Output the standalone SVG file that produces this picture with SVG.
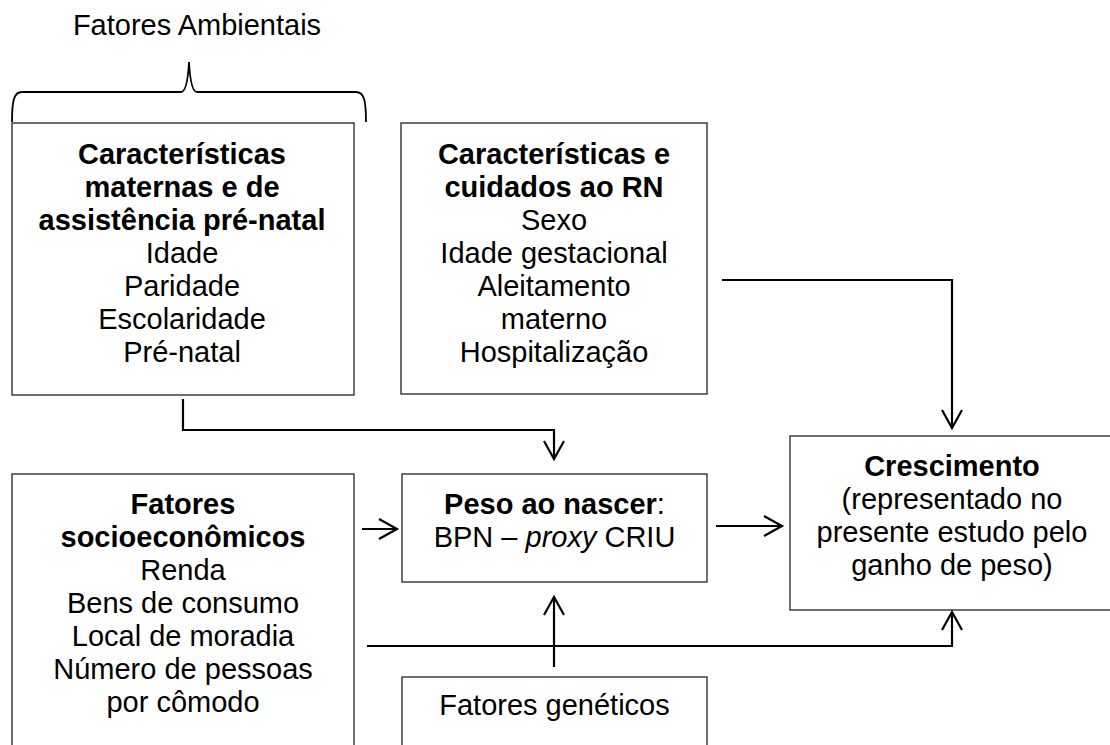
<svg xmlns="http://www.w3.org/2000/svg" width="1110" height="745" viewBox="0 0 1110 745">
<defs>
<style>
text{font-family:"Liberation Sans",Arial,sans-serif;font-size:29px;fill:#000;text-anchor:middle}
.b{font-weight:bold}
.box{fill:#fff;stroke:#222;stroke-width:1.3}
.con{fill:none;stroke:#000;stroke-width:2.2}
</style>
<marker id="arr" markerUnits="userSpaceOnUse" markerWidth="24" markerHeight="24" refX="18" refY="10" orient="auto" overflow="visible">
<path d="M0,0 L18,10 L0,20" fill="none" stroke="#000" stroke-width="2.2"/>
</marker>
</defs>
<rect width="1110" height="745" fill="#fff"/>

<g id="ambientais">
<text x="197" y="35">Fatores Ambientais</text>
<path d="M12,122 C12,100 14,92 22,92 L181,92 C186,92 188,80 189,62 C190,80 192,92 197,92 L356,92 C364,92 366,100 366,122" fill="none" stroke="#000" stroke-width="1.8"/>
</g>

<g id="maternas">
<rect class="box" x="12" y="123" width="342" height="272"/>
<text class="b" x="182" y="164">Características</text>
<text class="b" x="182" y="197">maternas e de</text>
<text class="b" x="182" y="230">assistência pré-natal</text>
<text x="182" y="263">Idade</text>
<text x="182" y="296">Paridade</text>
<text x="182" y="329">Escolaridade</text>
<text x="182" y="362">Pré-natal</text>
</g>

<g id="rn">
<rect class="box" x="401" y="123" width="306" height="271"/>
<text class="b" x="554" y="164">Características e</text>
<text class="b" x="554" y="197">cuidados ao RN</text>
<text x="554" y="230">Sexo</text>
<text x="554" y="263">Idade gestacional</text>
<text x="554" y="296">Aleitamento</text>
<text x="554" y="329">materno</text>
<text x="554" y="362">Hospitalização</text>
</g>

<g id="socio">
<rect class="box" x="12" y="474" width="342" height="290"/>
<text class="b" x="183" y="514">Fatores</text>
<text class="b" x="183" y="547">socioeconômicos</text>
<text x="183" y="580">Renda</text>
<text x="183" y="613">Bens de consumo</text>
<text x="183" y="646">Local de moradia</text>
<text x="183" y="679">Número de pessoas</text>
<text x="183" y="712">por cômodo</text>
</g>

<g id="peso">
<rect class="box" x="402" y="474" width="305" height="108"/>
<text x="554.5" y="514"><tspan class="b">Peso ao nascer</tspan>:</text>
<text x="554.5" y="547">BPN – <tspan font-style="italic">proxy</tspan> CRIU</text>
</g>

<g id="geneticos">
<rect class="box" x="402" y="677" width="305" height="100"/>
<text x="554.5" y="715">Fatores genéticos</text>
</g>

<g id="crescimento">
<rect class="box" x="790" y="436" width="330" height="174"/>
<text class="b" x="952" y="476">Crescimento</text>
<text x="952" y="509">(representado no</text>
<text x="952" y="542">presente estudo pelo</text>
<text x="952" y="575">ganho de peso)</text>
</g>

<g id="connectors">
<path class="con" d="M183,399 V430 H554 V459" marker-end="url(#arr)"/>
<path class="con" d="M722,280 H952 V428" marker-end="url(#arr)"/>
<path class="con" d="M362,529 H397" marker-end="url(#arr)"/>
<path class="con" d="M716,526 H782" marker-end="url(#arr)"/>
<path class="con" d="M367,646 H952 V612" marker-end="url(#arr)"/>
<path class="con" d="M554,667 V597" marker-end="url(#arr)"/>
</g>
</svg>
